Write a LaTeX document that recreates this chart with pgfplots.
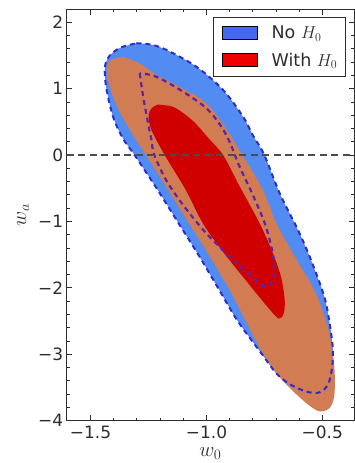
\documentclass[border=0pt]{standalone}
\usepackage{fontspec}
\setmainfont{DejaVu Sans}
\usepackage{pgfplots}
\pgfplotsset{compat=1.18}
\definecolor{bluefill}{RGB}{82,140,242}
\definecolor{orangefill}{RGB}{210,124,84}
\definecolor{redfill}{RGB}{208,0,0}
\definecolor{bluedash}{RGB}{45,45,205}
\definecolor{innerdash}{RGB}{95,35,165}
\definecolor{legblue}{RGB}{68,102,240}
\definecolor{legred}{RGB}{238,0,0}
\definecolor{axgray}{RGB}{45,45,45}
\begin{document}
\begin{tikzpicture}
\begin{axis}[
  scale only axis,
  width=287.6pt, height=411.4pt,
  xmin=-1.603, xmax=-0.362, ymin=-4, ymax=2.196,
  xtick={-1.5,-1,-0.5}, xticklabels={−1.5,−1.0,−0.5},
  ytick={-4,-3,-2,-1,0,1,2}, yticklabels={−4,−3,−2,−1,0,1,2},
  minor x tick num=4, minor y tick num=4,
  tick align=inside, xtick pos=both, ytick pos=both,
  major tick length=5.5pt, minor tick length=3pt,
  every tick/.style={axgray, line width=0.9pt},
  axis line style={axgray, line width=1.2pt},
  ticklabel style={font=\fontsize{17}{20}\selectfont, text=axgray},
  xticklabel style={inner sep=1pt, yshift=-3.8pt},
  xlabel={$w_0$}, ylabel={$w_a$},
  label style={font=\fontsize{20}{24}\selectfont, text=axgray},
  xlabel style={at={(axis description cs:0.5,0)}, anchor=north, inner sep=0.5pt, yshift=-26pt},
  ylabel style={yshift=2pt},
  legend cell align=left,
  legend style={draw=axgray, line width=1.1pt, font=\fontsize{17.5}{20}\selectfont,
    at={(0.9725,0.982)}, anchor=north east, row sep=4pt,
    inner xsep=4pt, inner ysep=4pt, text=axgray,
    nodes={inner sep=4.5pt}},
  legend image code/.code={\fill[#1] (0pt,-6.5pt) rectangle (35pt,6.5pt);
    \path[draw=none, fill=none] (-5pt,0pt) -- (45pt,0pt);},
  clip=true,
]
% No H0, 2 sigma (filled)
\addplot[fill=bluefill, draw=none, smooth, tension=0.55, forget plot] coordinates {
(-1.302,1.685) (-1.24,1.665) (-1.172,1.583) (-1.043,1.33) (-0.928,0.98) (-0.842,0.578) (-0.80,0.3)
(-0.75,0.0) (-0.684,-0.575) (-0.612,-1.078) (-0.57,-1.4) (-0.53,-1.75) (-0.49,-2.15) (-0.47,-2.5)
(-0.455,-2.9) (-0.458,-3.2) (-0.475,-3.45) (-0.51,-3.57) (-0.56,-3.57) (-0.63,-3.47) (-0.695,-3.3)
(-0.76,-3.0) (-0.865,-2.5) (-0.95,-2.0) (-1.035,-1.5) (-1.125,-1.0) (-1.215,-0.5) (-1.31,0.0)
(-1.36,0.25) (-1.403,0.578) (-1.433,1.03) (-1.438,1.33) (-1.417,1.50) (-1.37,1.62) (-1.302,1.685)};
% With H0, 2 sigma
\addplot[fill=orangefill, draw=none, smooth, tension=0.55, forget plot] coordinates {
(-1.359,1.48) (-1.288,1.38) (-1.216,1.21) (-1.101,1.0) (-1.0,0.78) (-0.92,0.42) (-0.845,0.0)
(-0.76,-0.5) (-0.695,-1.05) (-0.61,-1.58) (-0.535,-2.03) (-0.49,-2.43) (-0.466,-2.75) (-0.452,-3.05)
(-0.446,-3.35) (-0.449,-3.64) (-0.469,-3.81) (-0.512,-3.86) (-0.56,-3.76) (-0.625,-3.56)
(-0.69,-3.32) (-0.755,-3.0) (-0.83,-2.5) (-0.905,-2.0) (-0.99,-1.5) (-1.08,-1.0) (-1.17,-0.5)
(-1.26,0.0) (-1.33,0.377) (-1.388,0.75) (-1.425,1.13) (-1.424,1.40) (-1.359,1.48)};
% With H0, 1 sigma
\addplot[fill=redfill, draw=none, smooth, tension=0.55, forget plot] coordinates {
(-1.21,0.76) (-1.14,0.72) (-1.06,0.52) (-0.99,0.25) (-0.928,0.0) (-0.86,-0.45) (-0.77,-1.03)
(-0.713,-1.48) (-0.677,-1.85) (-0.662,-2.2) (-0.668,-2.40) (-0.684,-2.46) (-0.70,-2.43)
(-0.745,-2.25) (-0.82,-1.93) (-0.93,-1.45) (-1.015,-1.03) (-1.09,-0.52) (-1.18,0.0)
(-1.237,0.377) (-1.25,0.60) (-1.235,0.71) (-1.21,0.76)};
% No H0 contours (dashed outlines)
\addplot[draw=bluedash, line width=2pt, dash pattern=on 5pt off 4pt, smooth, tension=0.55, forget plot] coordinates {
(-1.302,1.685) (-1.24,1.665) (-1.172,1.583) (-1.043,1.33) (-0.928,0.98) (-0.842,0.578) (-0.80,0.3)
(-0.75,0.0) (-0.684,-0.575) (-0.612,-1.078) (-0.57,-1.4) (-0.53,-1.75) (-0.49,-2.15) (-0.47,-2.5)
(-0.455,-2.9) (-0.458,-3.2) (-0.475,-3.45) (-0.51,-3.57) (-0.56,-3.57) (-0.63,-3.47) (-0.695,-3.3)
(-0.76,-3.0) (-0.865,-2.5) (-0.95,-2.0) (-1.035,-1.5) (-1.125,-1.0) (-1.215,-0.5) (-1.31,0.0)
(-1.36,0.25) (-1.403,0.578) (-1.433,1.03) (-1.438,1.33) (-1.417,1.50) (-1.37,1.62) (-1.302,1.685)};
\addplot[draw=innerdash, line width=2.2pt, dash pattern=on 5pt off 4pt, smooth, tension=0.55, forget plot] coordinates {
(-1.288,1.232) (-1.273,0.88) (-1.252,0.48) (-1.237,0.227) (-1.225,0.0) (-1.17,-0.4) (-1.09,-0.8)
(-1.0,-1.18) (-0.9,-1.53) (-0.813,-1.80) (-0.756,-1.97) (-0.72,-1.93) (-0.706,-1.78) (-0.713,-1.5)
(-0.745,-1.06) (-0.80,-0.6) (-0.86,-0.15) (-0.90,0.2) (-0.94,0.45) (-1.0,0.705) (-1.101,0.955)
(-1.216,1.18) (-1.288,1.232)};
% reference line
\addplot[draw=axgray!85, line width=1.6pt, dash pattern=on 7pt off 4.5pt, forget plot] coordinates {(-1.603,0) (-0.362,0)};
\addlegendimage{fill=legblue}
\addlegendentry{No $H_0$}
\addlegendimage{fill=legred}
\addlegendentry{With $H_0$}
\end{axis}
\pgfresetboundingbox
\path[use as bounding box] ([xshift=-66.7pt,yshift=-42.3pt]current axis.south west) rectangle ([xshift=0.7pt,yshift=9.3pt]current axis.north east);
\end{tikzpicture}
\end{document}
